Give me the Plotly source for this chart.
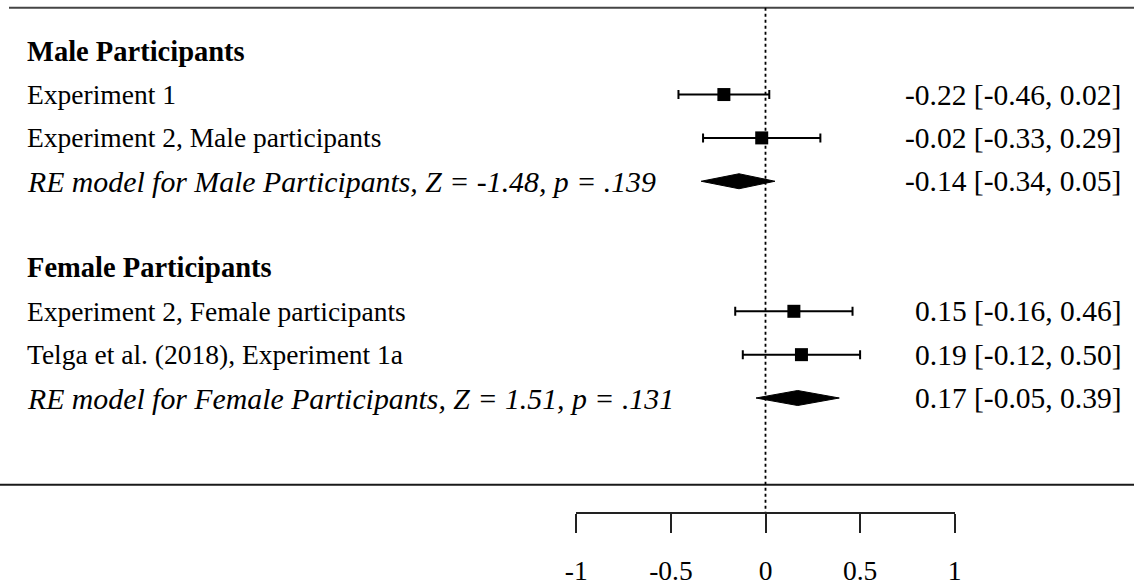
import plotly.graph_objects as go

# ---- data ----
study_labels = ["Experiment 1", "Experiment 2, Male participants",
                "Experiment 2, Female participants", "Telga et al. (2018), Experiment 1a"]
study_est = [-0.22, -0.02, 0.15, 0.19]
study_lb = [-0.46, -0.33, -0.16, -0.12]
study_ub = [0.02, 0.29, 0.46, 0.50]
study_rows = [8, 7, 3, 2]

group_headers = ["Male Participants", "Female Participants"]
header_rows = [9, 4]

re_labels = ["RE model for Male Participants, Z = -1.48, p = .139",
             "RE model for Female Participants, Z = 1.51, p = .131"]
re_est = [-0.14, 0.17]
re_lb = [-0.34, -0.05]
re_ub = [0.05, 0.39]
re_rows = [6, 1]

tick_vals = [-1, -0.5, 0, 0.5, 1]
tick_text = ["-1", "-0.5", "0", "0.5", "1"]

# ---- layout geometry (pixel calibration) ----
W, H = 1134, 585
px0, ppu = 765.5, 189.2          # pixel of x=0, pixels per unit
row_a, row_b = 441.35, 43.35     # pixel_y = row_a - row_b*row
def xr(px): return (px - px0) / ppu
def yr(py): return (row_a - py) / row_b

FONT = "Liberation Serif, Times New Roman, serif"
FS_N, FS_B, FS_I, FS_R = 27.5, 28.5, 29.8, 29.5
fig = go.Figure()

# horizontal rules
fig.add_trace(go.Scatter(x=[xr(9), xr(W)], y=[10, 10], mode="lines",
                         line=dict(color="#454545", width=2), hoverinfo="skip"))
fig.add_trace(go.Scatter(x=[xr(0), xr(W)], y=[-1, -1], mode="lines",
                         line=dict(color="#1a1a1a", width=2), hoverinfo="skip"))
# dotted reference line at 0
fig.add_trace(go.Scatter(x=[0, 0], y=[10, yr(512.7)], mode="lines",
                         line=dict(color="black", width=1.8, dash="dot"), hoverinfo="skip"))

# study estimates with CIs
fig.add_trace(go.Scatter(
    x=study_est, y=study_rows, mode="markers",
    marker=dict(symbol="square", size=13, color="black"),
    error_x=dict(type="data", symmetric=False,
                 array=[u - e for u, e in zip(study_ub, study_est)],
                 arrayminus=[e - l for e, l in zip(study_est, study_lb)],
                 color="black", thickness=2, width=4.5),
    hoverinfo="skip"))

# RE diamonds
h = 7.5 / row_b
for e, l, u, r in zip(re_est, re_lb, re_ub, re_rows):
    fig.add_trace(go.Scatter(x=[l, e, u, e, l], y=[r, r + h, r, r - h, r],
                             mode="lines", fill="toself", fillcolor="black",
                             line=dict(color="black", width=1), hoverinfo="skip"))

# invisible trace for the bracket axis
fig.add_trace(go.Scatter(x=[-1, 1], y=[0, 0], xaxis="x2", yaxis="y", mode="markers",
                         marker=dict(opacity=0), hoverinfo="skip"))

def f(size):
    return dict(family=FONT, size=size, color="black")

ann = []
xl, xrt = xr(24.5), xr(1123)
for t, r in zip(group_headers, header_rows):
    ann.append(dict(x=xl, y=r, text=f"<b>{t}</b>", xanchor="left", yanchor="middle",
                    showarrow=False, font=f(FS_B)))
for t, r, e, l, u in zip(study_labels, study_rows, study_est, study_lb, study_ub):
    ann.append(dict(x=xl, y=r, text=t, xanchor="left", yanchor="middle",
                    showarrow=False, font=f(FS_N)))
    ann.append(dict(x=xrt, y=r, text=f"{e:.2f} [{l:.2f}, {u:.2f}]", xanchor="right",
                    yanchor="middle", showarrow=False, font=f(FS_R)))
for t, r, e, l, u in zip(re_labels, re_rows, re_est, re_lb, re_ub):
    ann.append(dict(x=xl, y=r, text=f"<i>{t}</i>", xanchor="left", yanchor="middle",
                    showarrow=False, font=f(FS_I)))
    ann.append(dict(x=xrt, y=r, text=f"{e:.2f} [{l:.2f}, {u:.2f}]", xanchor="right",
                    yanchor="middle", showarrow=False, font=f(FS_R)))

fig.update_layout(
    template="none",
    width=W, height=H, margin=dict(l=0, r=0, t=0, b=0, pad=0, autoexpand=False),
    paper_bgcolor="white", plot_bgcolor="rgba(0,0,0,0)", showlegend=False,
    xaxis=dict(range=[xr(0), xr(W)], visible=False, fixedrange=True, automargin=False),
    yaxis=dict(range=[yr(H), yr(0)], visible=False, fixedrange=True, automargin=False),
    xaxis2=dict(domain=[(px0 - ppu) / W, (px0 + ppu) / W], range=[-1, 1],
                anchor="free", position=(H - 512.7) / H, side="bottom",
                showline=True, linecolor="#222", linewidth=2,
                ticks="outside", ticklen=19, tickwidth=2, tickcolor="#222",
                tickvals=tick_vals, ticktext=tick_text, ticklabelstandoff=14,
                showgrid=False, zeroline=False, fixedrange=True, automargin=False,
                tickfont=f(FS_N)),
    annotations=ann,
)
fig.write_html("out.html", config={"displayModeBar": False},
               post_script="document.body.style.margin='0';document.body.style.overflow='hidden';")
